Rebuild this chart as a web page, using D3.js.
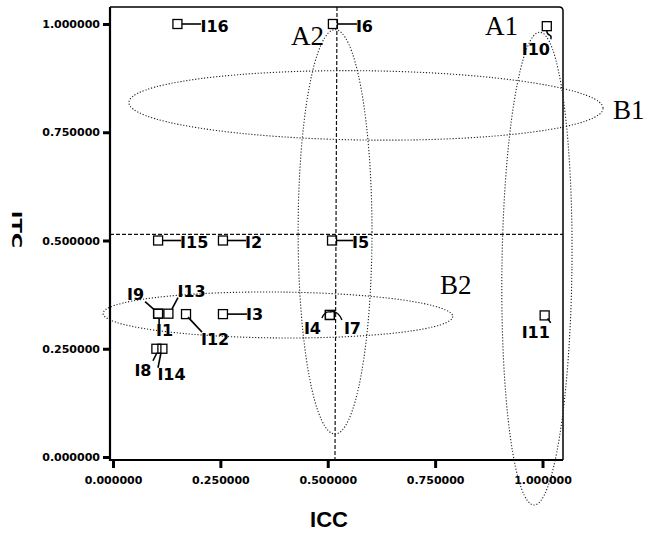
<!DOCTYPE html>
<html>
<head>
<meta charset="utf-8">
<script src="https://cdn.jsdelivr.net/npm/d3@7"></script>
<style>
  html, body { margin: 0; padding: 0; background: #fff; }
  svg { display: block; }
</style>
</head>
<body>
<svg id="chart" width="654" height="536"></svg>
<script>
// ---- data ----
const items = ["I1","I2","I3","I4","I5","I6","I7","I8","I9","I10","I11","I12","I13","I14","I15","I16"];
const iccValues = [0.105,0.256,0.256,0.505,0.510,0.512,0.505,0.101,0.105,1.010,1.005,0.170,0.129,0.115,0.105,0.150];
const itcValues = [0.331,0.500,0.330,0.328,0.500,1.000,0.328,0.250,0.331,0.995,0.327,0.330,0.331,0.250,0.500,1.000];
const tickValues = [0, 0.25, 0.5, 0.75, 1];
const meanICC = 0.5215;
const meanITC = 0.514;
// group ellipses in data units
const groupNames = ["A1","A2","B1","B2"];
const groupCx = [0.987, 0.517, 0.589, 0.384];
const groupCy = [0.435, 0.520, 0.812, 0.328];
const groupRx = [0.0815, 0.086, 0.552, 0.407];
const groupRy = [0.546, 0.467, 0.080, 0.053];

// ---- layout (not data) ----
const frame = {left: 110, right: 563, top: 7, bottom: 460};
const x = d3.scaleLinear().domain([0, 1]).range([113, 542.5]);
const y = d3.scaleLinear().domain([0, 1]).range([457, 24]);

const labelLayout = {
  I16: {dx: 23, dy: 8,  lead: [[4.5,0],[23.5,0]]},
  I6:  {dx: 23, dy: 8,  lead: [[4.5,0],[24,0]]},
  I5:  {dx: 20, dy: 7,  lead: [[4.5,0],[21,0]]},
  I15: {dx: 22, dy: 7,  lead: [[4.5,0],[23,0]]},
  I2:  {dx: 22, dy: 7,  lead: [[4.5,0],[23,0]]},
  I3:  {dx: 23, dy: 6,  lead: [[4.5,0],[24,0]]},
  I9:  {dx: -31, dy: -14, lead: [[-13,-12],[-4,-4]]},
  I13: {dx: 9, dy: -17, lead: [[9.6,-16],[3.6,-4.7]]},
  I1:  {dx: -2, dy: 22, lead: [[1,5],[1,11]]},
  I12: {dx: 15, dy: 31, lead: [[2,3],[16,18]]},
  I8:  {dx: -22, dy: 27, lead: [[0.6,4],[-3.4,12]]},
  I14: {dx: -5, dy: 31, lead: [[-1.4,4],[-4.4,19]]},
  I4:  {dx: -26, dy: 19, curve: "M0,-3 Q-5,-4 -8,3"},
  I7:  {dx: 14, dy: 19, curve: "M0,-3 Q8,-5 12,5"},
  I10: {dx: -25, dy: 29, curve: "M0,4.5 Q0,8 3,9 Q5,10 4,13"},
  I11: {dx: -23, dy: 23, lead: [[3,3],[6,7.5]]}
};
const groupLabelPos = {A1: [485, 35], A2: [291, 45], B1: [613, 119], B2: [440, 294]};
const groupTilt = {A1: 0.7, A2: 0, B1: 0.7, B2: 0.5};

const svg = d3.select("#chart");
svg.append("rect").attr("width", 654).attr("height", 536).attr("fill", "#fff");

// mean reference lines
svg.append("line")
  .attr("x1", frame.left).attr("x2", frame.right)
  .attr("y1", y(meanITC)).attr("y2", y(meanITC))
  .attr("stroke", "#111").attr("stroke-width", 1.2).attr("stroke-dasharray", "4 2");
svg.append("line")
  .attr("x1", x(meanICC)).attr("x2", x(meanICC) - 2)
  .attr("y1", frame.top).attr("y2", frame.bottom)
  .attr("stroke", "#111").attr("stroke-width", 1.2).attr("stroke-dasharray", "4 2");

// frame
svg.append("path")
  .attr("d", `M${frame.left},${frame.top} L${frame.right - 4},${frame.top} Q${frame.right},${frame.top} ${frame.right},${frame.top + 4} L${frame.right},${frame.bottom}`)
  .attr("fill", "none").attr("stroke", "#000").attr("stroke-width", 1.5);
svg.append("path")
  .attr("d", `M${frame.left},${frame.top} L${frame.left},${frame.bottom} L${frame.right},${frame.bottom}`)
  .attr("fill", "none").attr("stroke", "#000").attr("stroke-width", 2.2);

// axes
const fmt = d3.format(".6f");
const yAxis = svg.append("g")
  .attr("transform", `translate(${frame.left},0)`)
  .call(d3.axisLeft(y).tickValues(tickValues).tickFormat(fmt).tickSize(7).tickPadding(3));
const xAxis = svg.append("g")
  .attr("transform", `translate(0,${frame.bottom})`)
  .call(d3.axisBottom(x).tickValues(tickValues).tickFormat(fmt).tickSize(8).tickPadding(8));
[yAxis, xAxis].forEach(g => {
  g.select(".domain").remove();
  g.selectAll(".tick line").attr("stroke", "#000").attr("stroke-width", 3);
  g.selectAll(".tick text")
    .attr("fill", "#000")
    .style("font-family", "'DejaVu Sans', sans-serif")
    .style("font-weight", "bold")
    .style("font-size", "11px");
});

// axis titles
svg.append("text")
  .attr("x", 329).attr("y", 527)
  .attr("text-anchor", "middle")
  .style("font-family", "'Liberation Sans', Arial, sans-serif")
  .style("font-weight", "bold").style("font-size", "22px")
  .text("ICC");
svg.append("text")
  .attr("transform", "translate(12,229.5) rotate(90) scale(1.5,1)")
  .attr("text-anchor", "middle")
  .style("font-family", "'DejaVu Sans', sans-serif")
  .style("font-weight", "bold").style("font-size", "14px")
  .text("ITC");

// group ellipses
const groups = groupNames.map((n, i) => ({name: n, cx: groupCx[i], cy: groupCy[i], rx: groupRx[i], ry: groupRy[i]}));
svg.append("g").selectAll("ellipse").data(groups).join("ellipse")
  .attr("cx", d => x(d.cx)).attr("cy", d => y(d.cy))
  .attr("rx", d => x(d.rx) - x(0)).attr("ry", d => y(0) - y(d.ry))
  .attr("transform", d => `rotate(${groupTilt[d.name]},${x(d.cx)},${y(d.cy)})`)
  .attr("fill", "none").attr("stroke", "#222").attr("stroke-width", 1.1)
  .attr("stroke-dasharray", "1.2 1.8");
svg.append("g").selectAll("text").data(groups).join("text")
  .attr("x", d => groupLabelPos[d.name][0]).attr("y", d => groupLabelPos[d.name][1])
  .style("font-family", "'Liberation Serif', 'Times New Roman', serif")
  .style("font-size", "27px")
  .text(d => d.name);

// points
const pts = items.map((n, i) => ({name: n, icc: iccValues[i], itc: itcValues[i]}));
const size = 9;
const pg = svg.append("g");
pg.selectAll("rect").data(pts).join("rect")
  .attr("x", d => x(d.icc) - size / 2).attr("y", d => y(d.itc) - size / 2)
  .attr("width", size).attr("height", size)
  .attr("fill", "none").attr("stroke", "#000").attr("stroke-width", 1.3);

// leader lines
pg.selectAll("path.leader").data(pts.filter(d => !labelLayout[d.name].curve)).join("path")
  .attr("class", "leader")
  .attr("d", d => {
    const L = labelLayout[d.name];
    const cx = x(d.icc), cy = y(d.itc);
    return `M${cx + L.lead[0][0]},${cy + L.lead[0][1]} L${cx + L.lead[1][0]},${cy + L.lead[1][1]}`;
  })
  .attr("fill", "none").attr("stroke", "#000").attr("stroke-width", 1.6);
pg.selectAll("path.curve").data(pts.filter(d => labelLayout[d.name].curve)).join("path")
  .attr("class", "curve")
  .attr("transform", d => `translate(${x(d.icc)},${y(d.itc)})`)
  .attr("d", d => labelLayout[d.name].curve)
  .attr("fill", "none").attr("stroke", "#000").attr("stroke-width", 1.4);

// item labels
pg.selectAll("text").data(pts).join("text")
  .attr("x", d => x(d.icc) + labelLayout[d.name].dx)
  .attr("y", d => y(d.itc) + labelLayout[d.name].dy)
  .style("font-family", "'DejaVu Sans', sans-serif")
  .style("font-weight", "bold").style("font-size", "16px")
  .text(d => d.name);
</script>
</body>
</html>
